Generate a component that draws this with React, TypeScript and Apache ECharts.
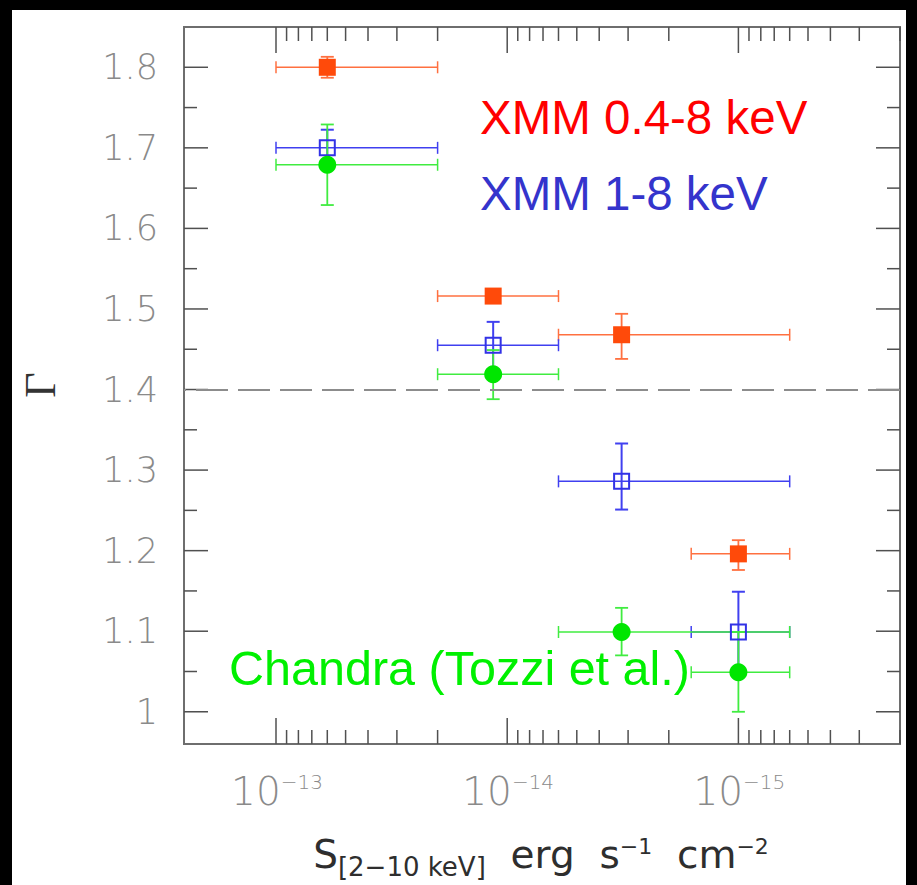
import React, { useEffect, useRef } from "react";
import * as echarts from "echarts";

// ---------- axes ----------
const xMin = 2e-16;
const xMax = 2.5e-13;
const yMin = 0.96;
const yMax = 1.85;
const xMajorTicks = [1e-13, 1e-14, 1e-15];
const xMajorExponents = ["\u221213", "\u221214", "\u221215"];
const xMinorMantissas = [2, 3, 4, 5, 6, 7, 8, 9];
const xMinorDecades = [1e-14, 1e-15, 1e-16];
const yMajorTicks = [1.0, 1.1, 1.2, 1.3, 1.4, 1.5, 1.6, 1.7, 1.8];
const yMajorLabels = ["1", "1.1", "1.2", "1.3", "1.4", "1.5", "1.6", "1.7", "1.8"];
const yMinorTicks = [1.05, 1.15, 1.25, 1.35, 1.45, 1.55, 1.65, 1.75];
const referenceGamma = 1.4;

// ---------- XMM 0.4-8 keV ----------
const xmmSoftFlux = [6e-14, 1.15e-14, 3.2e-15, 1e-15];
const xmmSoftFluxLow = [2e-14, 6e-15, 6e-16, 6e-16];
const xmmSoftFluxHigh = [1e-13, 2e-14, 6e-15, 1.6e-15];
const xmmSoftGamma = [1.8, 1.516, 1.468, 1.196];
const xmmSoftGammaLow = [1.787, 1.508, 1.438, 1.176];
const xmmSoftGammaHigh = [1.813, 1.524, 1.494, 1.213];

// ---------- XMM 1-8 keV ----------
const xmmHardFlux = [6e-14, 1.15e-14, 3.2e-15, 1e-15];
const xmmHardFluxLow = [2e-14, 6e-15, 6e-16, 6e-16];
const xmmHardFluxHigh = [1e-13, 2e-14, 6e-15, 1.6e-15];
const xmmHardGamma = [1.7, 1.455, 1.286, 1.099];
const xmmHardGammaLow = [1.68, 1.425, 1.251, 1.05];
const xmmHardGammaHigh = [1.7225, 1.484, 1.333, 1.149];

// ---------- Chandra (Tozzi et al.) ----------
const chandraFlux = [6e-14, 1.15e-14, 3.2e-15, 1e-15];
const chandraFluxLow = [2e-14, 6e-15, 6e-16, 6e-16];
const chandraFluxHigh = [1e-13, 2e-14, 6e-15, 1.6e-15];
const chandraGamma = [1.679, 1.419, 1.099, 1.049];
const chandraGammaLow = [1.629, 1.388, 1.07, 1.0];
const chandraGammaHigh = [1.729, 1.449, 1.129, 1.099];

const rows = (f: number[], g: number[], fl: number[], fh: number[], gl: number[], gh: number[]) =>
  f.map((v, i) => [v, g[i], fl[i], fh[i], gl[i], gh[i]]);

const AXIS_FONT = "DejaVu Sans";
const LEGEND_FONT = "Liberation Sans";

const makeErrorRender = (color: string, hWidth: number, vWidth: number) => (params: any, api: any) => {
  const x = api.value(0);
  const y = api.value(1);
  const c = api.coord([x, y]);
  const pl = api.coord([api.value(2), y]);
  const ph = api.coord([api.value(3), y]);
  const pb = api.coord([x, api.value(4)]);
  const pt = api.coord([x, api.value(5)]);
  const hs = { stroke: color, lineWidth: hWidth, fill: null };
  const vs = { stroke: color, lineWidth: vWidth, fill: null };
  const capH = 6;
  const capV = 6.5;
  return {
    type: "group",
    children: [
      { type: "line", shape: { x1: pl[0], y1: c[1], x2: ph[0], y2: c[1] }, style: hs },
      { type: "line", shape: { x1: pl[0], y1: c[1] - capH, x2: pl[0], y2: c[1] + capH }, style: hs },
      { type: "line", shape: { x1: ph[0], y1: c[1] - capH, x2: ph[0], y2: c[1] + capH }, style: hs },
      { type: "line", shape: { x1: c[0], y1: pb[1], x2: c[0], y2: pt[1] }, style: vs },
      { type: "line", shape: { x1: c[0] - capV, y1: pb[1], x2: c[0] + capV, y2: pb[1] }, style: vs },
      { type: "line", shape: { x1: c[0] - capV, y1: pt[1], x2: c[0] + capV, y2: pt[1] }, style: vs },
    ],
  };
};

const renderFrame = (params: any, api: any) => {
  const children: any[] = [];
  const tick = { stroke: "#505050", lineWidth: 1.5, fill: null };
  const left = api.coord([xMax, yMin])[0];
  const right = api.coord([xMin, yMin])[0];
  const bottom = api.coord([xMax, yMin])[1];
  const top = api.coord([xMax, yMax])[1];
  const xTick = (v: number, len: number) => {
    const px = api.coord([v, yMin])[0];
    children.push({ type: "line", shape: { x1: px, y1: bottom, x2: px, y2: bottom - len }, style: tick });
    children.push({ type: "line", shape: { x1: px, y1: top, x2: px, y2: top + len }, style: tick });
  };
  const yTick = (v: number, len: number) => {
    const py = api.coord([xMax, v])[1];
    children.push({ type: "line", shape: { x1: left, y1: py, x2: left + len, y2: py }, style: tick });
    children.push({ type: "line", shape: { x1: right, y1: py, x2: right - len, y2: py }, style: tick });
  };
  xMajorTicks.forEach((v) => xTick(v, 26));
  xMinorDecades.forEach((d) => xMinorMantissas.forEach((m) => xTick(m * d, 14)));
  yMajorTicks.forEach((v) => yTick(v, 24));
  yMinorTicks.forEach((v) => yTick(v, 13));
  yMajorTicks.forEach((v, i) => {
    const py = api.coord([xMax, v])[1];
    children.push({
      type: "text",
      style: {
        x: left - 26,
        y: py,
        text: yMajorLabels[i],
        fill: "#8a8a8a",
        fontSize: 35,
        fontFamily: AXIS_FONT,
        fontWeight: 200,
        align: "right",
        verticalAlign: "middle",
      },
    });
  });
  xMajorTicks.forEach((v, i) => {
    const px = api.coord([v, yMin])[0];
    children.push({
      type: "text",
      style: {
        x: px + 1,
        y: bottom + 27.5,
        text: `{a|10}{b|${xMajorExponents[i]}}`,
        fill: "#8a8a8a",
        align: "center",
        verticalAlign: "top",
        rich: {
          a: { fontSize: 39, fontFamily: AXIS_FONT, fontWeight: 200, fill: "#8a8a8a", verticalAlign: "top" },
          b: { fontSize: 20, fontFamily: AXIS_FONT, fontWeight: 200, fill: "#8a8a8a", verticalAlign: "top" },
        },
      },
    });
  });
  return { type: "group", children };
};

export default function App() {
  const ref = useRef<HTMLDivElement>(null);
  useEffect(() => {
    if (!ref.current) return;
    const chart = echarts.init(ref.current, null, { renderer: "svg" });
    const option: any = {
      animation: false,
      backgroundColor: "#ffffff",
      grid: {
        left: 184,
        top: 27,
        width: 716,
        height: 717,
        show: true,
        borderColor: "#6e6e6e",
        borderWidth: 2,
        backgroundColor: "transparent",
        containLabel: false,
        outerBoundsMode: "none",
      },
      xAxis: {
        type: "log",
        logBase: 10,
        min: xMin,
        max: xMax,
        inverse: true,
        axisLine: { show: false },
        axisTick: { show: false },
        axisLabel: { show: false },
        splitLine: { show: false },
      },
      yAxis: {
        type: "value",
        min: yMin,
        max: yMax,
        axisLine: { show: false },
        axisTick: { show: false },
        axisLabel: { show: false },
        splitLine: { show: false },
      },
      graphic: [
        { type: "rect", silent: true, shape: { x: 0, y: 0, width: 917, height: 10 }, style: { fill: "#000" } },
        { type: "rect", silent: true, shape: { x: 0, y: 0, width: 12, height: 885 }, style: { fill: "#000" } },
        { type: "rect", silent: true, shape: { x: 906, y: 0, width: 11, height: 885 }, style: { fill: "#000" } },
        {
          type: "text",
          x: 480,
          y: 117.5,
          style: { text: "XMM 0.4-8 keV", fill: "#ff0000", fontSize: 47.5, fontFamily: LEGEND_FONT, align: "left", verticalAlign: "middle" },
        },
        {
          type: "text",
          x: 480,
          y: 193.5,
          style: { text: "XMM 1-8 keV", fill: "#3434cc", fontSize: 47.5, fontFamily: LEGEND_FONT, align: "left", verticalAlign: "middle" },
        },
        {
          type: "text",
          x: 229,
          y: 668.2,
          z: 10,
          style: { text: "Chandra (Tozzi et al.)", fill: "#00f000", fontSize: 48.5, fontFamily: LEGEND_FONT, align: "left", verticalAlign: "middle" },
        },
        {
          type: "text",
          x: 40.5,
          y: 385,
          rotation: Math.PI / 2,
          style: { text: "\u0393", fill: "#333333", fontSize: 44, fontFamily: "Liberation Serif", align: "center", verticalAlign: "middle" },
        },
        {
          type: "text",
          x: 541,
          y: 835,
          style: {
            text: "{m|S}{s|[2\u221210 keV]}{m|  erg  s}{p|\u22121}{m|  cm}{p|\u22122}",
            fill: "#2e2e2e",
            align: "center",
            verticalAlign: "top",
            rich: {
              m: { fontSize: 39, fontFamily: AXIS_FONT, fill: "#2e2e2e", verticalAlign: "top" },
              s: { fontSize: 26, fontFamily: AXIS_FONT, fill: "#2e2e2e", verticalAlign: "top", padding: [19, 0, 0, 0] },
              p: { fontSize: 22, fontFamily: AXIS_FONT, fill: "#2e2e2e", verticalAlign: "top" },
            },
          },
        },
      ],
      series: [
        {
          type: "custom",
          name: "frame",
          coordinateSystem: "cartesian2d",
          silent: true,
          z: 1,
          encode: { x: 0, y: 1 },
          data: [[1e-14, referenceGamma]],
          renderItem: renderFrame,
          markLine: {
            silent: true,
            symbol: ["none", "none"],
            label: { show: false },
            lineStyle: { color: "#8c8c8c", width: 2, type: [32, 10] },
            data: [{ yAxis: referenceGamma }],
          },
        },
        {
          type: "custom",
          name: "XMM 0.4-8 keV errors",
          coordinateSystem: "cartesian2d",
          silent: true,
          z: 2,
          encode: { x: 0, y: 1 },
          data: rows(xmmSoftFlux, xmmSoftGamma, xmmSoftFluxLow, xmmSoftFluxHigh, xmmSoftGammaLow, xmmSoftGammaHigh),
          renderItem: makeErrorRender("#ff7040", 1.5, 1.8),
        },
        {
          type: "custom",
          name: "XMM 1-8 keV errors",
          coordinateSystem: "cartesian2d",
          silent: true,
          z: 2,
          encode: { x: 0, y: 1 },
          data: rows(xmmHardFlux, xmmHardGamma, xmmHardFluxLow, xmmHardFluxHigh, xmmHardGammaLow, xmmHardGammaHigh),
          renderItem: makeErrorRender("#4040f0", 1.5, 2),
        },
        {
          type: "custom",
          name: "Chandra errors",
          coordinateSystem: "cartesian2d",
          silent: true,
          z: 2,
          encode: { x: 0, y: 1 },
          data: rows(chandraFlux, chandraGamma, chandraFluxLow, chandraFluxHigh, chandraGammaLow, chandraGammaHigh),
          renderItem: makeErrorRender("#40ec40", 1.5, 1.8),
        },
        {
          type: "scatter",
          name: "XMM 0.4-8 keV",
          z: 3,
          symbol: "rect",
          symbolSize: 17,
          itemStyle: { color: "#ff4a0a", opacity: 1 },
          data: xmmSoftFlux.map((f, i) => [f, xmmSoftGamma[i]]),
        },
        {
          type: "scatter",
          name: "XMM 1-8 keV",
          z: 3,
          symbol: "rect",
          symbolSize: 15,
          itemStyle: { color: "rgba(255,255,255,0)", borderColor: "#3232e6", borderWidth: 2, opacity: 1 },
          data: xmmHardFlux.map((f, i) => [f, xmmHardGamma[i]]),
        },
        {
          type: "scatter",
          name: "Chandra (Tozzi et al.)",
          z: 3,
          symbol: "circle",
          symbolSize: 18,
          itemStyle: { color: "#00e600", opacity: 1 },
          data: chandraFlux.map((f, i) => [f, chandraGamma[i]]),
        },
      ],
    };
    chart.setOption(option);
    return () => chart.dispose();
  }, []);
  return (
    <div
      ref={ref}
      style={{ position: "absolute", left: 0, top: 0, width: 917, height: 885, background: "#fff" }}
    />
  );
}
